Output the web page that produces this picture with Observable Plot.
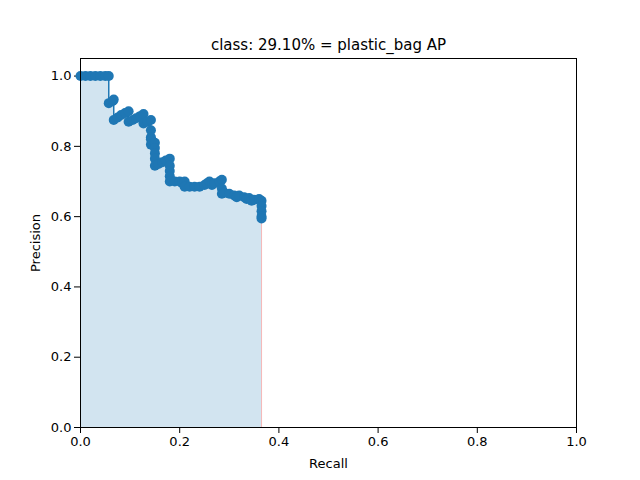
<!DOCTYPE html>
<html><head><meta charset="utf-8">
<script src="https://cdn.jsdelivr.net/npm/d3@7"></script>
<script src="https://cdn.jsdelivr.net/npm/@observablehq/plot@0.6"></script>
<style>body{margin:0;background:#fff}</style>
</head><body><div id="chart"></div>
<script>
const title = "class: 29.10% = plastic_bag AP";
const recall = [0,0.01,0.02,0.03,0.04,0.05,0.057,0.057,0.065,0.067,0.067,0.075,0.082,0.09,0.097,0.097,0.105,0.112,0.12,0.127,0.127,0.135,0.142,0.135,0.135,0.142,0.142,0.15,0.15,0.15,0.15,0.15,0.157,0.165,0.172,0.18,0.18,0.18,0.18,0.18,0.19,0.2,0.205,0.21,0.21,0.22,0.23,0.24,0.25,0.255,0.26,0.265,0.27,0.28,0.285,0.285,0.285,0.29,0.3,0.31,0.315,0.32,0.33,0.335,0.34,0.345,0.35,0.36,0.365,0.365,0.365,0.365,0.365];
const precision = [1,1,1,1,1,1,1,0.923,0.929,0.933,0.875,0.882,0.889,0.895,0.9,0.87,0.875,0.88,0.886,0.892,0.865,0.87,0.875,0.846,0.826,0.82,0.805,0.81,0.795,0.78,0.765,0.745,0.75,0.755,0.76,0.765,0.745,0.73,0.715,0.7,0.7,0.7,0.695,0.7,0.685,0.685,0.685,0.685,0.69,0.695,0.7,0.69,0.695,0.7,0.705,0.68,0.665,0.668,0.665,0.66,0.655,0.66,0.655,0.65,0.653,0.645,0.648,0.65,0.645,0.63,0.615,0.6,0.595];
const data = recall.map((r, i) => ({r, p: precision[i]}));
// monotone recall for the drawn order
for (let i = 1; i < data.length; i++) data[i].r = Math.max(data[i].r, data[i-1].r);
const blue = "#1f77b4";
const chart = Plot.plot({
  width: 640, height: 480,
  marginTop: 58, marginBottom: 53, marginLeft: 80, marginRight: 64,
  style: {fontSize: "13px", fontFamily: "DejaVu Sans", color: "#000"},
  x: {domain: [0, 1], ticks: [0,0.2,0.4,0.6,0.8,1], tickFormat: ".1f", label: "Recall", labelAnchor: "center", labelArrow: "none", labelOffset: 40},
  y: {domain: [0, 1.05], ticks: [0,0.2,0.4,0.6,0.8,1], tickFormat: ".1f", label: "Precision", labelAnchor: "center", labelArrow: "none", labelOffset: 50},
  marks: [
    Plot.areaY(data, {x: "r", y1: 0, y2: "p", fill: blue, fillOpacity: 0.2}),
    Plot.ruleX([recall[recall.length-1]], {y1: 0, y2: precision[precision.length-1], stroke: "#e88", strokeOpacity: 0.6}),
    Plot.ruleY([0], {stroke: "#a33"}),
    Plot.line(data, {x: "r", y: "p", stroke: blue, strokeWidth: 1.5}),
    Plot.dot(data, {x: "r", y: "p", r: 5, fill: blue}),
    Plot.frame({stroke: "#000"}),
    Plot.text([title], {frameAnchor: "top", dy: -19, fontSize: 15, fill: "#000"})
  ]
});
document.getElementById("chart").append(chart);
</script></body></html>
